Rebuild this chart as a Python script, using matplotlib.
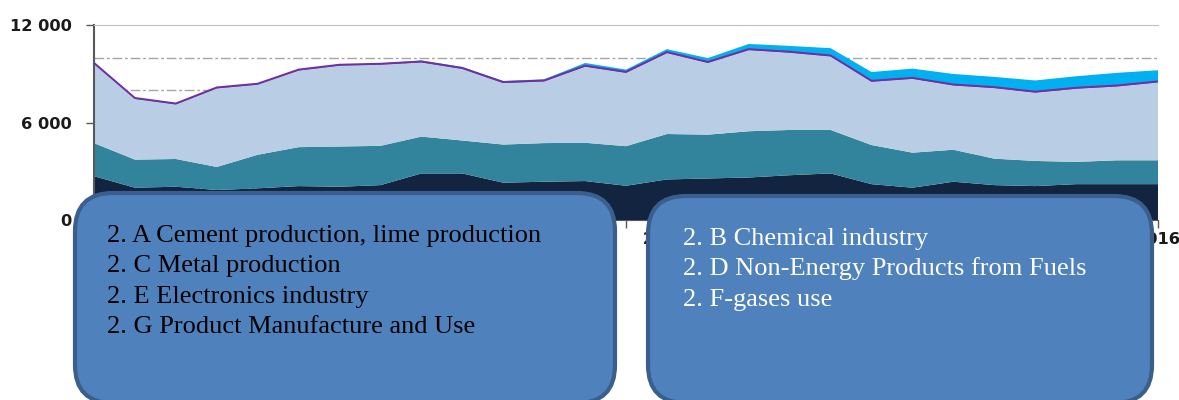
import matplotlib.pyplot as plt
import numpy as np
from matplotlib.patches import FancyBboxPatch

years = np.arange(1990, 2017)

# layers, bottom to top
dark = [2700, 1990, 2050, 1850, 1950, 2090, 2050, 2150, 2870, 2870, 2300, 2360, 2400, 2110,
        2500, 2560, 2620, 2760, 2870, 2210, 1990, 2360, 2150, 2090, 2210, 2210, 2210]
teal = [2040, 1730, 1710, 1420, 2070, 2400, 2480, 2420, 2270, 2030, 2350, 2380, 2360, 2440,
        2800, 2700, 2850, 2790, 2680, 2410, 2160, 1970, 1630, 1550, 1370, 1470, 1470]
light = [4880, 3740, 3360, 4840, 4320, 4720, 4980, 5000, 4570, 4410, 3790, 3800, 4690, 4520,
         4990, 4420, 5000, 4760, 4530, 3900, 4550, 3960, 4350, 4210, 4510, 4550, 4800]
purple = [60] * 27
cyan = [10, 10, 10, 10, 10, 10, 10, 20, 60, 60, 70, 70, 170, 140,
        180, 240, 320, 360, 450, 540, 570, 650, 630, 690, 710, 780, 690]

layer_colors = ["#12243f", "#31849b", "#b9cde5", "#7030a0", "#00b0f0"]

yticks = [0, 6000, 12000]
ytick_labels = ["0", "6 000", "12 000"]
xticks = [1990, 2003, 2016]
xtick_labels = ["1990", "   2003", "2016"]
grid_levels = [2000, 4000, 6000, 8000, 10000]

left_box_lines = ["2. A Cement production, lime production",
                  "2. C Metal production",
                  "2. E Electronics industry",
                  "2. G Product Manufacture and Use"]
right_box_lines = ["2. B Chemical industry",
                   "2. D Non-Energy Products from Fuels",
                   "2. F-gases use"]

fig = plt.figure(figsize=(11.79, 4.0), dpi=100)
ax = fig.add_axes([94 / 1179, 0.45, (1158 - 94) / 1179, (220 - 25.3) / 400])

for lvl in grid_levels:
    ax.axhline(lvl, color="#a6a6a6", lw=1, ls=(0, (7, 2, 2, 2)), zorder=0)

ax.stackplot(years, dark, teal, light, purple, cyan, colors=layer_colors, lw=0, zorder=2)
top_line = np.array(dark) + np.array(teal) + np.array(light) + np.array(purple)
ax.plot(years, top_line, color="#7030a0", lw=1.4, zorder=3)

ax.set_xlim(1990, 2016)
ax.set_ylim(0, 12000)
ax.set_yticks(yticks)
ax.set_yticklabels(ytick_labels)
ax.set_xticks(xticks)
ax.set_xticklabels(xtick_labels)

for lab in ax.get_xticklabels() + ax.get_yticklabels():
    lab.set_fontfamily("DejaVu Sans")
    lab.set_fontweight("bold")
    lab.set_fontsize(11.7)
    lab.set_color("#1a1a1a")

# middle year label sits to the right of its tick
ax.get_xticklabels()[1].set_horizontalalignment("left")

ax.tick_params(axis="y", direction="out", length=6, width=1, color="#595959", pad=10)
ax.tick_params(axis="x", direction="out", length=6, width=1, color="#595959", pad=3)

ax.spines["right"].set_visible(False)
ax.spines["top"].set_color("#c0c0c0")
ax.spines["left"].set_color("#595959")
ax.spines["left"].set_linewidth(1.5)
ax.spines["bottom"].set_color("#595959")

# text boxes over the lower part
inch = fig.dpi_scale_trans
left_box = FancyBboxPatch((0.75, -0.03), 5.40, 2.10,
                          boxstyle="round,pad=0,rounding_size=0.38",
                          transform=inch, facecolor="#4f81bd", edgecolor="#3b5f8d",
                          lw=3, zorder=10, clip_on=False)
right_box = FancyBboxPatch((6.48, -0.03), 5.04, 2.07,
                           boxstyle="round,pad=0,rounding_size=0.38",
                           transform=inch, facecolor="#4f81bd", edgecolor="#3b5f8d",
                           lw=3, zorder=10, clip_on=False)
fig.patches.extend([left_box, right_box])

for i, line in enumerate(left_box_lines):
    fig.text(1.07, (400 - 242 - i * 30.3) / 100, line, transform=inch,
             fontfamily="Liberation Serif", fontsize=19, color="black",
             va="baseline", ha="left", zorder=11)
for i, line in enumerate(right_box_lines):
    fig.text(6.83, (400 - 245 - i * 30.3) / 100, line, transform=inch,
             fontfamily="Liberation Serif", fontsize=19, color="white",
             va="baseline", ha="left", zorder=11)

fig.savefig("out.png", dpi=100)
